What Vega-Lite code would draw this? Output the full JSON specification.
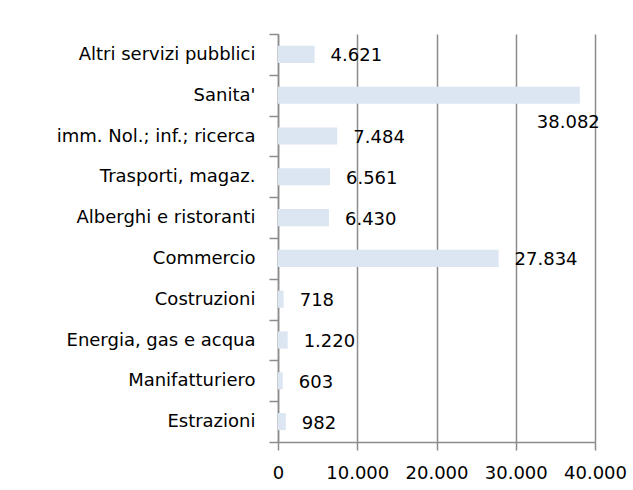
{
  "$schema": "https://vega.github.io/schema/vega-lite/v6.json",
  "autosize": "none",
  "width": 317,
  "height": 408,
  "padding": {"left": 278, "top": 34, "right": 38, "bottom": 48},
  "background": "white",
  "config": {
    "locale": {"number": {"decimal": ",", "thousands": ".", "grouping": [3], "currency": ["€", ""]}},
    "view": {"stroke": null},
    "font": "DejaVu Sans"
  },
  "data": {
    "values": [
      {"settore": "Altri servizi pubblici", "valore": 4621},
      {"settore": "Sanita'", "valore": 38082},
      {"settore": "imm. Nol.; inf.; ricerca", "valore": 7484},
      {"settore": "Trasporti, magaz.", "valore": 6561},
      {"settore": "Alberghi e ristoranti", "valore": 6430},
      {"settore": "Commercio", "valore": 27834},
      {"settore": "Costruzioni", "valore": 718},
      {"settore": "Energia, gas e acqua", "valore": 1220},
      {"settore": "Manifatturiero", "valore": 603},
      {"settore": "Estrazioni", "valore": 982}
    ]
  },
  "encoding": {
    "y": {
      "field": "settore",
      "type": "nominal",
      "sort": null,
      "scale": {"paddingInner": 0, "paddingOuter": 0},
      "axis": {
        "title": null,
        "tickBand": "extent",
        "tickSize": 9,
        "tickColor": "#8c8c8c",
        "domainColor": "#8c8c8c",
        "domainWidth": 1.5,
        "tickWidth": 1.5,
        "labelPadding": 14,
        "labelFont": "DejaVu Sans",
        "labelFontSize": 18,
        "labelColor": "#000000",
        "labelLimit": 300
      }
    }
  },
  "layer": [
    {
      "mark": {"type": "bar", "color": "#dce6f2", "height": {"band": 0.42}},
      "encoding": {
        "x": {
          "field": "valore",
          "type": "quantitative",
          "scale": {"domain": [0, 40000], "nice": false},
          "axis": {
            "title": null,
            "values": [0, 10000, 20000, 30000, 40000],
            "format": ",d",
            "grid": true,
            "gridColor": "#8c8c8c",
            "gridWidth": 1.5,
            "gridOpacity": 1,
            "domainColor": "#8c8c8c",
            "domainWidth": 1.5,
            "tickColor": "#8c8c8c",
            "tickWidth": 1.5,
            "tickSize": 8,
            "labelPadding": 14,
            "labelFont": "DejaVu Sans",
            "labelFontSize": 18,
            "labelColor": "#000000",
            "labelFlush": false
          }
        }
      }
    },
    {
      "transform": [{"filter": "datum.valore < 35000"}],
      "mark": {"type": "text", "align": "left", "baseline": "middle", "dx": 16, "dy": 2, "fontSize": 18, "font": "DejaVu Sans", "color": "#000000"},
      "encoding": {
        "x": {"field": "valore", "type": "quantitative"},
        "text": {"field": "valore", "type": "quantitative", "format": ",d"}
      }
    },
    {
      "transform": [{"filter": "datum.valore >= 35000"}],
      "mark": {"type": "text", "align": "right", "baseline": "middle", "dx": 20, "dy": 28, "fontSize": 18, "font": "DejaVu Sans", "color": "#000000"},
      "encoding": {
        "x": {"field": "valore", "type": "quantitative"},
        "text": {"field": "valore", "type": "quantitative", "format": ",d"}
      }
    }
  ]
}
